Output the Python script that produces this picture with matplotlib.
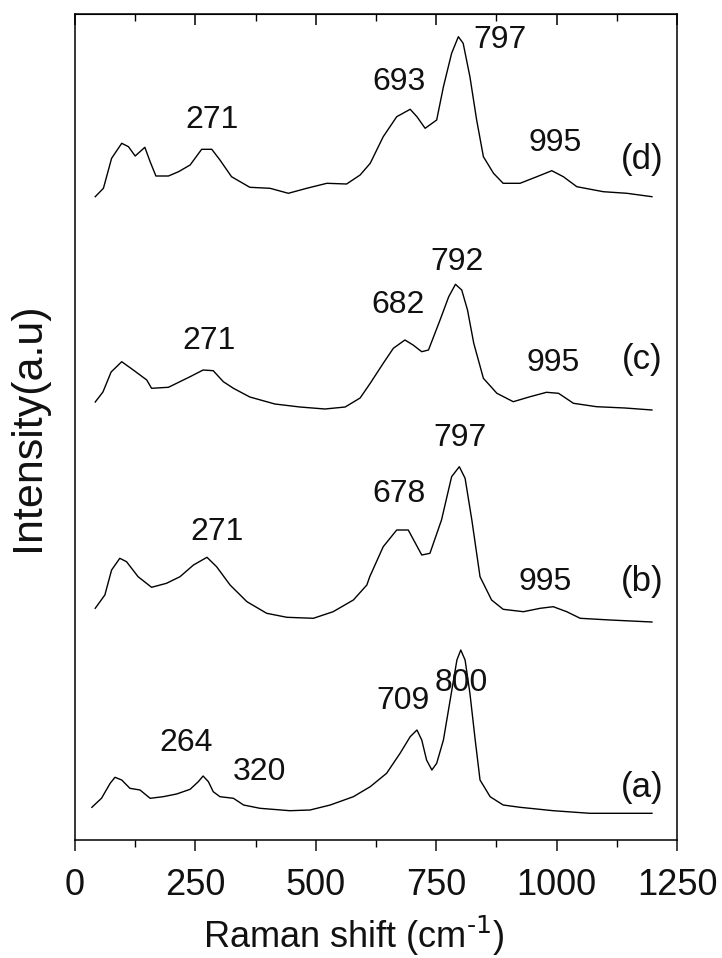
import matplotlib
matplotlib.use("Agg")
import matplotlib.pyplot as plt
import numpy as np

plt.rcParams['font.family'] = ['Liberation Sans', 'DejaVu Sans']

# ---- data (Raman shift, cm-1; relative intensity, a.u.) ----
x_a = [35, 55, 73, 83, 97, 114, 135, 156, 183, 211, 239, 256, 266, 277, 287, 301, 329, 350,
       384, 446, 488, 530, 578, 613, 647, 675, 696, 710, 720, 730, 741, 751, 765, 779, 793,
       801, 810, 820, 831, 841, 862, 889, 924, 993, 1069, 1198]
i_a = [6.7, 15.7, 30.7, 36.7, 34, 25.7, 24, 15.7, 17.3, 20, 24.7, 32.3, 38, 32.3, 22.3, 17.3,
       15.7, 9, 5.7, 3.3, 4, 9, 17.3, 27.3, 40.7, 60.7, 77.3, 84, 74, 54, 44, 50.7, 74, 114,
       154, 164, 154, 120.7, 74, 34, 17.3, 9, 6.7, 3.3, 0.7, 0.7]

x_b = [42, 62, 76, 93, 107, 131, 159, 190, 218, 246, 274, 294, 322, 357, 398, 440, 495, 536,
       578, 606, 612, 640, 668, 692, 720, 737, 761, 782, 798, 810, 824, 841, 865, 889, 931,
       966, 993, 1021, 1049, 1111, 1198]
i_b = [11.7, 25, 50, 61.7, 58.3, 43.3, 32.7, 36.7, 43.3, 55, 62.7, 53.3, 35, 18.3, 6.7, 2.7,
       1.7, 8.3, 20, 35, 43.3, 73.3, 90, 90, 65, 66.7, 100, 143.3, 153.3, 141.7, 100, 43.3,
       20, 10.7, 8.3, 11.7, 13.3, 8.3, 1.7, 0, -2]

x_c = [42, 58, 75, 97, 121, 149, 159, 194, 239, 266, 287, 308, 329, 363, 415, 467, 519, 561,
       592, 613, 640, 661, 685, 702, 720, 734, 758, 776, 790, 803, 815, 828, 848, 876, 910,
       945, 979, 1004, 1035, 1083, 1142, 1198]
i_c = [8, 18, 38, 48.3, 40, 30, 21.7, 22.7, 33.3, 40, 39.3, 28.3, 21.7, 13, 6, 3, 1, 3, 12,
       26.7, 46.7, 61.7, 70, 65, 58.3, 60, 90, 113.3, 125.7, 120, 100, 66.7, 31.7, 16.7, 8.3,
       13.3, 17.7, 16.7, 6.7, 3.3, 2, 0]

x_d = [42, 59, 76, 97, 111, 125, 145, 156, 168, 194, 215, 239, 263, 284, 301, 325, 363, 405,
       443, 481, 523, 564, 592, 613, 640, 668, 696, 710, 727, 751, 765, 782, 796, 806, 820,
       834, 848, 869, 889, 924, 959, 990, 1014, 1042, 1097, 1146, 1198]
i_d = [3.3, 11.7, 41.7, 56.7, 53.3, 44, 52.7, 38.3, 24, 24, 28.3, 35, 50.7, 50.7, 40, 23.3,
       12.7, 11.7, 6.7, 11.7, 16.7, 16, 25, 36.7, 63.3, 83.3, 90.7, 83.3, 71.7, 80, 113.3,
       146.7, 163.3, 156.7, 123.3, 80, 43.3, 26.7, 16.7, 16.7, 23.3, 29.3, 23.3, 13.3, 8.3,
       6.7, 3.3]

spectra = [(x_a, i_a), (x_b, i_b), (x_c, i_c), (x_d, i_d)]
offsets = [26, 220, 430, 640]
sample_labels = ['(a)', '(b)', '(c)', '(d)']
label_y = [53, 258, 480, 681]

# peak annotations: (text, x, y) in data coordinates
peak_labels = [
    ('264', 230, 97), ('320', 384, 68), ('709', 681, 139), ('800', 801, 157),
    ('271', 294, 308), ('678', 672, 346), ('797', 799, 402), ('995', 976, 258),
    ('271', 278, 499), ('682', 670, 535), ('792', 793, 578), ('995', 992, 477),
    ('271', 284, 720), ('693', 673, 758), ('797', 882, 800), ('995', 997, 697),
]

fig = plt.figure(figsize=(7.22, 9.58), dpi=100)
ax = fig.add_axes([75/722, 1-840/958, 602/722, 826/958])

for (xs, ys), off in zip(spectra, offsets):
    ax.plot(xs, np.array(ys) + off, color='black', lw=1.0)

for (txt, xx, yy) in peak_labels:
    ax.text(xx, yy, txt, fontsize=23, ha='center', va='center', color='#111111')

for lab, yy in zip(sample_labels, label_y):
    ax.text(1178, yy, lab, fontsize=25, ha='center', va='center', color='#111111')

ax.set_xlim(0, 1250)
ax.set_ylim(0, 826)
ax.set_yticks([])
ax.set_xticks([0, 250, 500, 750, 1000, 1250])
ax.set_xticks(np.arange(125, 1250, 250), minor=True)
ax.tick_params(axis='x', which='major', direction='out', length=8, width=1.1,
               labelsize=26, pad=12, colors='#111111')
ax.tick_params(axis='x', which='minor', direction='out', length=5, width=1.0)
ax.tick_params(axis='x', top=False)

sec = ax.secondary_xaxis('top')
sec.set_xticks([0, 250, 500, 750, 1000, 1250])
sec.set_xticks(np.arange(125, 1250, 250), minor=True)
sec.tick_params(axis='x', which='major', direction='in', length=8, width=1.1, labeltop=False)
sec.tick_params(axis='x', which='minor', direction='in', length=5, width=1.0)

for s in ax.spines.values():
    s.set_linewidth(1.1)

ax.set_xlabel(r'Raman shift (cm$^{\text{-}1}$)', fontsize=26, color='#111111')
ax.xaxis.set_label_coords(0.463, -0.116, transform=ax.transAxes)
ax.xaxis.label.set_va('center')
ax.set_ylabel('Intensity(a.u)', fontsize=31, color='#111111')
ax.yaxis.set_label_coords(-0.078, 0.5, transform=ax.transAxes)
ax.yaxis.label.set_va('center')

fig.savefig('out.png', dpi=100)
